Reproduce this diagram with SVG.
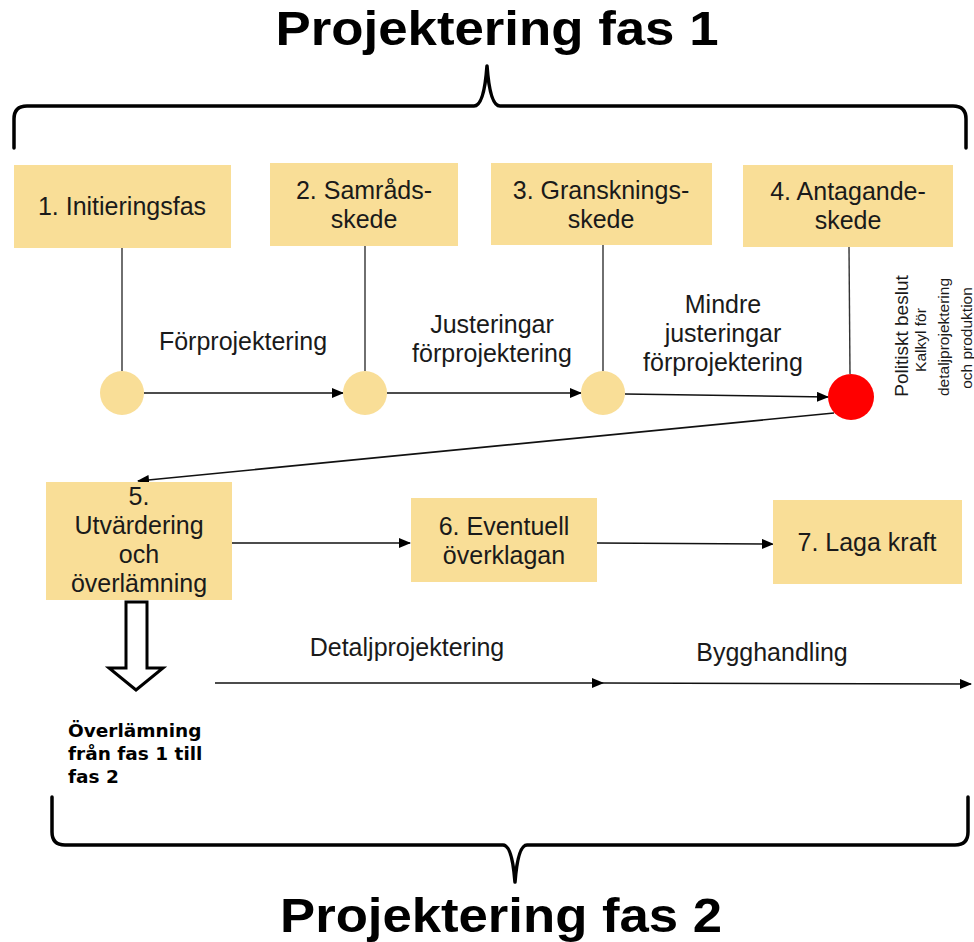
<svg xmlns="http://www.w3.org/2000/svg" width="974" height="942" viewBox="0 0 974 942">
<defs>
<style>
.box{fill:#F9DE97;}
.t{font-family:"Liberation Sans",Arial,sans-serif;font-size:25px;fill:#1a1a1a;text-anchor:middle;}
.lbl{font-family:"Liberation Sans",Arial,sans-serif;font-size:25px;fill:#1a1a1a;text-anchor:middle;}
.title{font-family:"Liberation Sans",Arial,sans-serif;font-weight:bold;font-size:48px;fill:#000;text-anchor:middle;}
.brace{fill:none;stroke:#000;stroke-width:3.5;stroke-linejoin:round;stroke-linecap:round;}
.conn{stroke:#111;stroke-width:1.6;fill:none;}
.vline{stroke:#333;stroke-width:1.4;fill:none;}
.dot{fill:#F9DE97;}
.rot{font-family:"Liberation Sans",Arial,sans-serif;fill:#1a1a1a;text-anchor:middle;}
.note{font-family:"DejaVu Sans",Verdana,sans-serif;font-weight:bold;font-size:18.5px;fill:#000;}
</style>
<marker id="ah" markerWidth="12" markerHeight="10" refX="11" refY="5" orient="auto" markerUnits="userSpaceOnUse">
<path d="M0,0 L12,5 L0,10 Z" fill="#000"/>
</marker>
</defs>
<rect width="974" height="942" fill="#fff"/>

<g id="title1">
<text class="title" x="497" y="45" textLength="443" lengthAdjust="spacingAndGlyphs">Projektering fas 1</text>
<path class="brace" d="M14,148 L14,119 Q14,106 27,106 L474,106 Q484,106 487,66 Q490,106 500,106 L953,106 Q966,106 966,119 L966,148"/>
</g>

<g id="title2">
<path class="brace" d="M52,797 L52,832 Q52,845 65,845 L503,845 Q512,845 515,882 Q518,845 527,845 L955,845 Q968,845 968,832 L968,797"/>
<text class="title" x="501" y="932" textLength="442" lengthAdjust="spacingAndGlyphs">Projektering fas 2</text>
</g>

<g id="connectors">
<line class="vline" x1="122" y1="248" x2="122" y2="371"/>
<line class="vline" x1="365" y1="246" x2="365" y2="371"/>
<line class="vline" x1="603" y1="245" x2="603" y2="371"/>
<line class="vline" x1="849" y1="247" x2="850" y2="374"/>
<line class="conn" x1="144" y1="393" x2="343" y2="393" marker-end="url(#ah)"/>
<line class="conn" x1="387" y1="393" x2="581" y2="393" marker-end="url(#ah)"/>
<line class="conn" x1="625" y1="394" x2="828" y2="397" marker-end="url(#ah)"/>
<line class="conn" x1="834" y1="413" x2="138" y2="481" marker-end="url(#ah)"/>
<line class="conn" x1="232" y1="543" x2="410" y2="543" marker-end="url(#ah)"/>
<line class="conn" x1="597" y1="543" x2="773" y2="544" marker-end="url(#ah)"/>
<line class="conn" x1="215" y1="683" x2="603" y2="683" marker-end="url(#ah)"/>
<line class="conn" x1="603" y1="683" x2="971" y2="684" marker-end="url(#ah)"/>
<text class="lbl" x="243" y="350">Förprojektering</text>
<text class="lbl" x="492" y="333">Justeringar</text>
<text class="lbl" x="492" y="362">förprojektering</text>
<text class="lbl" x="723" y="313">Mindre</text>
<text class="lbl" x="723" y="342">justeringar</text>
<text class="lbl" x="723" y="371">förprojektering</text>
<text class="lbl" x="407" y="656" font-size="24">Detaljprojektering</text>
<text class="lbl" x="772" y="661" font-size="24">Bygghandling</text>
</g>

<g id="n1">
<rect class="box" x="14" y="165" width="217" height="83"/>
<text class="t" x="122" y="215">1. Initieringsfas</text>
</g>
<g id="n2">
<rect class="box" x="270" y="163" width="188" height="83"/>
<text class="t" x="364" y="199">2. Samråds-</text>
<text class="t" x="364" y="228">skede</text>
</g>
<g id="n3">
<rect class="box" x="491" y="163" width="221" height="82"/>
<text class="t" x="601" y="199">3. Gransknings-</text>
<text class="t" x="601" y="228">skede</text>
</g>
<g id="n4">
<rect class="box" x="743" y="165" width="210" height="82"/>
<text class="t" x="848" y="200">4. Antagande-</text>
<text class="t" x="848" y="229">skede</text>
</g>

<g id="c1"><circle class="dot" cx="122" cy="393" r="22"/></g>
<g id="c2"><circle class="dot" cx="365" cy="393" r="22"/></g>
<g id="c3"><circle class="dot" cx="603" cy="393" r="22"/></g>
<g id="c4"><circle cx="851" cy="397" r="23" fill="#FF0000"/></g>

<g id="decision">
<text class="rot" font-size="19" transform="translate(908,336) rotate(-90)">Politiskt beslut</text>
<text class="rot" font-size="15.5" transform="translate(926,340) rotate(-90)">Kalkyl för</text>
<text class="rot" font-size="15.5" transform="translate(949,337) rotate(-90)">detaljprojektering</text>
<text class="rot" font-size="15.5" transform="translate(972,338) rotate(-90)">och produktion</text>
</g>

<g id="n5">
<rect class="box" x="46" y="482" width="186" height="118"/>
<text class="t" x="139" y="505">5.</text>
<text class="t" x="139" y="534">Utvärdering</text>
<text class="t" x="139" y="563">och</text>
<text class="t" x="139" y="592">överlämning</text>
</g>
<g id="n6">
<rect class="box" x="411" y="498" width="186" height="84"/>
<text class="t" x="504" y="535">6. Eventuell</text>
<text class="t" x="504" y="564">överklagan</text>
</g>
<g id="n7">
<rect class="box" x="773" y="500" width="189" height="84"/>
<text class="t" x="867" y="551">7. Laga kraft</text>
</g>

<g id="handover">
<polygon points="126,602 147,602 147,668 163,668 136,690 109,668 126,668" fill="#fff" stroke="#000" stroke-width="3" stroke-linejoin="miter"/>
<text class="note" x="68" y="737">Överlämning</text>
<text class="note" x="68" y="760">från fas 1 till</text>
<text class="note" x="68" y="783">fas 2</text>
</g>
</svg>
